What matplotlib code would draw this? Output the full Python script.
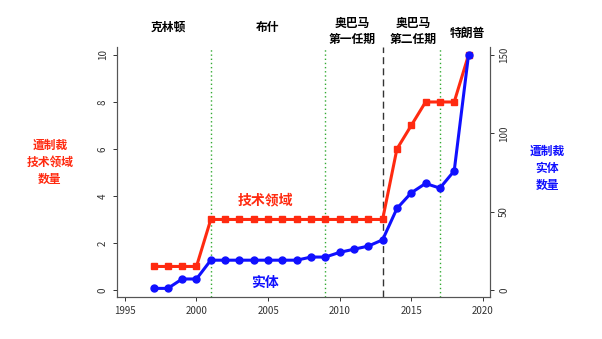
import matplotlib.pyplot as plt
import numpy as np

plt.rcParams['font.family'] = ['Noto Sans CJK SC', 'DejaVu Sans']

years = np.arange(1997, 2020)
tech_fields = [1, 1, 1, 1, 3, 3, 3, 3, 3, 3, 3, 3, 3, 3, 3, 3, 3, 6, 7, 8, 8, 8, 10]
entities = [1, 1, 7, 7, 19, 19, 19, 19, 19, 19, 19, 21, 21, 24, 26, 28, 32, 52, 62, 68, 65, 76, 150]

green_lines = [2001, 2009, 2017]
dashed_line = 2013

red = '#ff2a10'
blue = '#1010ff'

fig = plt.figure(figsize=(6.02, 3.39), dpi=100)
ax = fig.add_axes([117/602, 1 - 297/339, (490 - 117)/602, (297 - 47)/339])
ax2 = ax.twinx()

ax.plot(years, tech_fields, color=red, lw=2.2, marker='s', ms=5, zorder=3)
ax2.plot(years, entities, color=blue, lw=2.2, marker='o', ms=5, zorder=3)

for x in green_lines:
    ax.axvline(x, color='#33aa33', ls=(0, (1, 2)), lw=1)
ax.axvline(dashed_line, color='#333333', ls=(0, (5, 3)), lw=1)

ax.set_xlim(1994.45, 2020.5)
ax.set_ylim(-0.3, 10.34)
ax2.set_ylim(-4.5, 155.1)
ax.set_xticks([1995, 2000, 2005, 2010, 2015, 2020])
ax.set_yticks([0, 2, 4, 6, 8, 10])
ax2.set_yticks([0, 50, 100, 150])

for a in (ax, ax2):
    a.spines['top'].set_visible(False)
    for s in a.spines.values():
        s.set_color('#555555')
        s.set_linewidth(0.8)
    a.tick_params(labelsize=7, colors='#333333', length=3, width=0.7)
for lab in ax.get_yticklabels() + ax2.get_yticklabels():
    lab.set_rotation(90)
    lab.set_va('center')

# president labels
tops = [(168, 27, '克林顿'), (268, 27, '布什'), (352, 31, '奥巴马\n第一任期'),
        (413, 31, '奥巴马\n第二任期'), (467, 33, '特朗普')]
for x, y, t in tops:
    fig.text(x/602, 1 - y/339, t, ha='center', va='center', fontsize=8.5,
             fontweight='bold', color='black', linespacing=1.3)

fig.text(265/602, 1 - 200/339, '技术领域', ha='center', va='center', fontsize=10,
         fontweight='bold', color=red)
fig.text(265/602, 1 - 283/339, '实体', ha='center', va='center', fontsize=10,
         fontweight='bold', color=blue)
fig.text(50/602, 1 - 162/339, '遭制裁\n技术领域\n数量', ha='center', va='center',
         fontsize=8.5, fontweight='bold', color=red, linespacing=1.4)
fig.text(547/602, 1 - 168/339, '遭制裁\n实体\n数量', ha='center', va='center',
         fontsize=8.5, fontweight='bold', color=blue, linespacing=1.4)

fig.savefig('out.png', dpi=100)
